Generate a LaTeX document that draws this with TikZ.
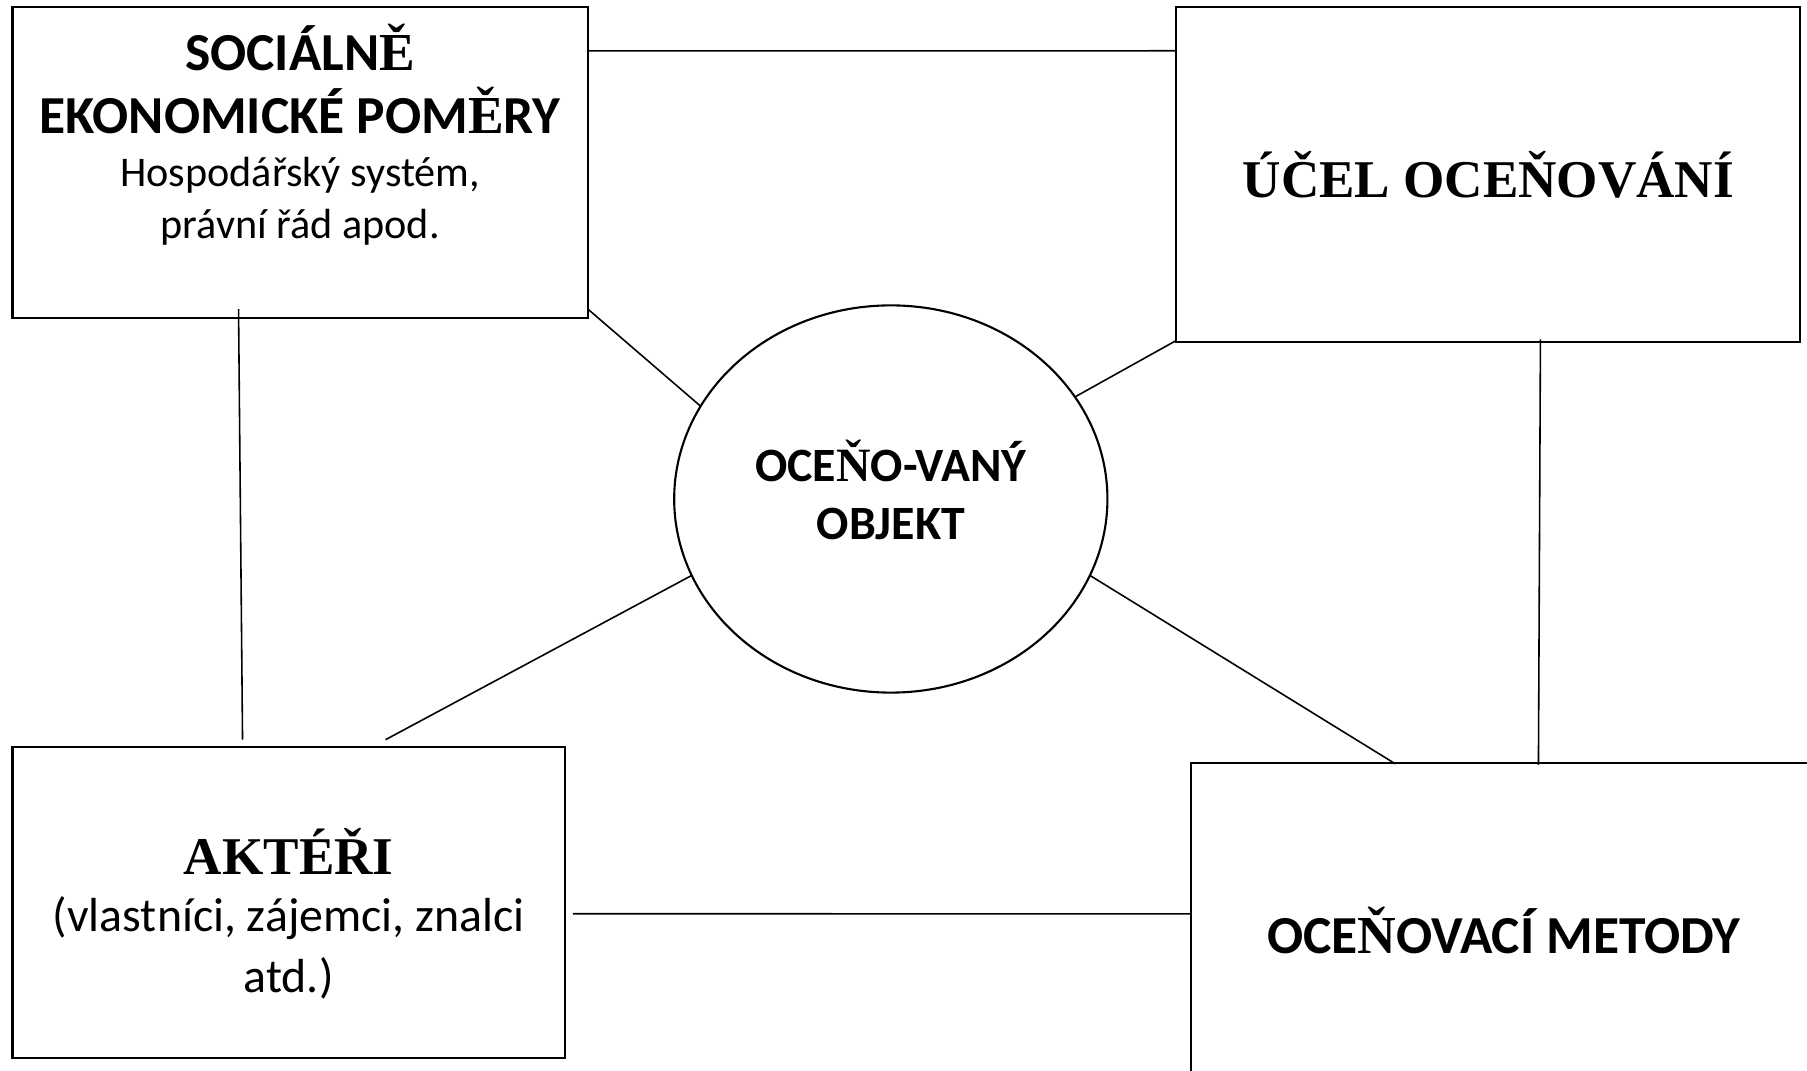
\documentclass[tikz,border=0pt]{standalone}
\usepackage{fontspec}
\setmainfont{Carlito}
\newfontfamily\tnr{Liberation Serif}
\usetikzlibrary{positioning,shapes.geometric,calc}

\begin{document}
\begin{tikzpicture}[x=0.01cm,y=-0.01cm,
box/.style={draw,line width=0.6pt,inner sep=0pt,outer sep=0pt,align=center},
oval/.style={draw,ellipse,line width=0.6pt,inner sep=0pt,outer sep=0pt,minimum width=4.33cm,minimum height=3.87cm},
title/.style={font=\fontsize{15.2}{18}\selectfont\bfseries,align=center,inner sep=0pt},
serif/.style={font=\fontsize{15.1}{18}\selectfont\bfseries\tnr},
sub/.style={font=\fontsize{13.6}{17.4}\selectfont,align=center,inner sep=0pt},
small/.style={font=\fontsize{12}{14.8}\selectfont,align=center,inner sep=0pt},
link/.style={line width=0.45pt}
]
\useasboundingbox (0,0) rectangle (1807,1071);
\clip (0,0) rectangle (1807,1071);
\fill[white] (0,0) rectangle (1807,1071);

% the four boxes and the object in the middle
\node[box,minimum width=5.75cm,minimum height=3.11cm] (soc) at (300.2,162.5) {};
\node[box,serif,minimum width=6.234cm,minimum height=3.354cm] (ucel) at (1488.3,174.6) {ÚČEL OCEŇOVÁNÍ};
\node[box,minimum width=5.52cm,minimum height=3.112cm] (akt) at (288.7,902.4) {};
\node[box,minimum width=6.244cm,minimum height=3.40cm] (met) at (1503.8,933) {};
\node[oval] (obj) at (890.8,499) {};

% texts
\node[title] (soct) at ($(soc.north)+(0,72)$) {SOCIÁLN{\tnr Ě}\\EKONOMICKÉ POM{\tnr Ě}RY};
\node[small,below=0.22cm of soct] (socs) {Hospodářský systém,\\právní řád apod.};
\node[serif,inner sep=0pt] (aktt) at ($(akt.north)+(0,105)$) {AKTÉŘI};
\node[sub,below=0.2cm of aktt] (akts) {(vlastníci, zájemci, znalci\\atd.)};
\node[title] (mett) at ($(met.center)+(0,-3)$) {OCE{\tnr Ň}OVACÍ METODY};
\node[title,font=\fontsize{13.6}{16.5}\selectfont\bfseries] (objt) at ($(obj.center)+(0,-9)$) {OCE{\tnr Ň}O-VANÝ\\OBJEKT};

% connectors
\draw[link] ($(soc.north east)+(0,44)$) -- ($(ucel.north west)+(0,44)$);
\draw[link] ($(soc.south east)+(0,-9)$) -- (obj.154);
\draw[link] ($(ucel.south west)+(0,-2)$) -- (obj.29);
\draw[link] ($(soc.south west)+(226,-9)$) -- ($(akt.north west)+(230,-7)$);
\draw[link] ($(ucel.south west)+(364,-3)$) -- ($(met.north west)+(347,2)$);
\draw[link] ($(akt.north west)+(373,-7)$) -- (obj.201);
\draw[link] (obj.339) -- ($(met.north west)+(204,1)$);
\draw[link] ($(akt.north east)+(8,167)$) -- ($(met.north west)+(0,151)$);
\end{tikzpicture}
\end{document}
